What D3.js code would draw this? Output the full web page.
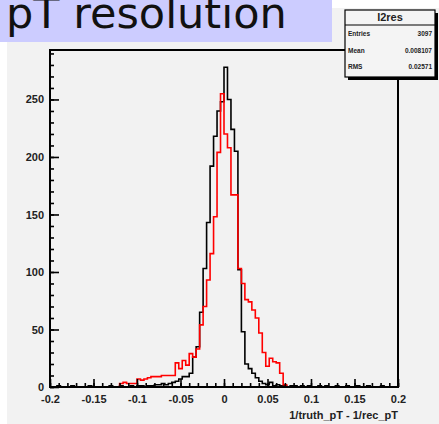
<!DOCTYPE html>
<html>
<head>
<meta charset="utf-8">
<title>pT resolution</title>
<script src="https://d3js.org/d3.v7.min.js"></script>
<style>
  body { margin: 0; background: #fff; }
  svg { display: block; }
  .ax text { font-family: "Liberation Sans", Arial, sans-serif; font-weight: bold; font-size: 11px; fill: #222; }
  .ax path { display: none; }
  .ax line { stroke: #000; stroke-width: 1.6; }
</style>
</head>
<body>
<svg width="439" height="424"></svg>
<script>
// 100 bins between -0.2 and 0.2
const xRange = [-0.2, 0.2];
const nBins = 100;

const blackCounts = [
  0,0,1,0,0,0,1,0,0,0, 0,1,0,0,0,0,0,1,0,0,
  1,0,0,1,0,1,1,0,1,1, 2,2,3,2,3,4,5,7,9,9,
  12,26,35,65,103,143,192,218,240,248, 278,250,224,205,102,48,20,16,12,8,
  5,3,2,4,1,2,1,1,0,1, 1,0,1,0,1,0,0,1,0,1, 
  0,0,1,0,0,1,0,0,1,0, 0,1,0,0,0,1,0,0,0,0
];
const redCounts = [
  0,0,0,0,0,0,0,0,0,0, 0,0,0,0,0,0,0,0,0,0,
  3,4,3,3,3,7,6,7,8,9, 9,9,10,10,10,10,21,16,23,19,
  29,26,33,54,70,93,116,148,204,255, 220,208,167,167,103,90,76,74,67,60,
  47,30,18,25,22,21,12,2,0,0, 0,0,0,0,0,0,0,0,0,0,
  0,0,0,0,0,0,0,0,0,0, 0,0,0,0,0,0,0,0,0,0
];

const yTicks = [0, 50, 100, 150, 200, 250];
const xTicks = [-0.2, -0.15, -0.1, -0.05, 0, 0.05, 0.1, 0.15, 0.2];
const xTickLabels = ["-0.2", "-0.15", "-0.1", "-0.05", "0", "0.05", "0.1", "0.15", "0.2"];
const statNames = ["Entries", "Mean", "RMS"];
const statValues = ["3097", "0.008107", "0.02571"];

const svg = d3.select("svg");

// canvas background + title pad
svg.append("rect").attr("x", 7).attr("y", 8).attr("width", 432).attr("height", 416).attr("fill", "#f2f2f2");
svg.append("rect").attr("x", 0).attr("y", 0).attr("width", 332).attr("height", 42).attr("fill", "#ccccff");
svg.append("text").attr("x", 6).attr("y", 28)
  .attr("font-family", "DejaVu Sans, sans-serif").attr("font-size", 43).attr("fill", "#111")
  .text("pT resolution");

const pLeft = 50, pRight = 398, pTop = 50, pBottom = 387;
const x = d3.scaleLinear().domain(xRange).range([pLeft, pRight]);
const y = d3.scaleLinear().domain([0, 293]).range([pBottom, pTop]);
const bw = (xRange[1] - xRange[0]) / nBins;

function histPoints(counts) {
  const pts = [[xRange[0], 0]];
  counts.forEach((c, i) => {
    pts.push([xRange[0] + i * bw, c]);
    pts.push([xRange[0] + (i + 1) * bw, c]);
  });
  pts.push([xRange[1], 0]);
  return pts;
}
const line = d3.line().x(d => x(d[0])).y(d => y(d[1]));

svg.append("path").attr("d", line(histPoints(blackCounts)))
  .attr("fill", "none").attr("stroke", "#000").attr("stroke-width", 1.6);
svg.append("path").attr("d", line(histPoints(redCounts)))
  .attr("fill", "none").attr("stroke", "#ff0000").attr("stroke-width", 1.6);

// axes: ticks point inward like ROOT
const yMinor = d3.range(0, 291, 10);
svg.append("g").attr("class", "ax").attr("transform", `translate(${pLeft},0)`)
  .call(d3.axisLeft(y).tickValues(yMinor).tickSize(-4).tickFormat(""));
svg.append("g").attr("class", "ax").attr("transform", `translate(${pLeft},0)`)
  .call(d3.axisLeft(y).tickValues(yTicks).tickSize(-9).tickPadding(6).tickFormat(d3.format("d")));

const xMinor = d3.range(0, 41).map(i => -0.2 + i * 0.01);
svg.append("g").attr("class", "ax").attr("transform", `translate(0,${pBottom})`)
  .call(d3.axisBottom(x).tickValues(xMinor).tickSize(-4).tickFormat(""));
svg.append("g").attr("class", "ax").attr("transform", `translate(0,${pBottom})`)
  .call(d3.axisBottom(x).tickValues(xTicks).tickSize(-8).tickPadding(8).tickFormat((d, i) => xTickLabels[i]));

svg.append("text").attr("x", pRight).attr("y", 419).attr("text-anchor", "end")
  .attr("font-family", "Liberation Sans, Arial, sans-serif").attr("font-weight", "bold")
  .attr("font-size", 11).attr("fill", "#222").text("1/truth_pT - 1/rec_pT");

// frame
svg.append("rect").attr("x", pLeft).attr("y", pTop).attr("width", pRight - pLeft).attr("height", pBottom - pTop)
  .attr("fill", "none").attr("stroke", "#000").attr("stroke-width", 2);

// stats box
const sb = {x: 345, y: 10, w: 90, h: 67};
svg.append("rect").attr("x", sb.x + 3).attr("y", sb.y + 3).attr("width", sb.w).attr("height", sb.h).attr("fill", "#000");
svg.append("rect").attr("x", sb.x).attr("y", sb.y).attr("width", sb.w).attr("height", sb.h)
  .attr("fill", "#f4f4f4").attr("stroke", "#000").attr("stroke-width", 1.2);
svg.append("line").attr("x1", sb.x).attr("x2", sb.x + sb.w).attr("y1", 25).attr("y2", 25)
  .attr("stroke", "#000").attr("stroke-width", 1.2);
svg.append("text").attr("x", sb.x + sb.w / 2).attr("y", 21).attr("text-anchor", "middle")
  .attr("font-family", "Liberation Sans, Arial, sans-serif").attr("font-weight", "bold")
  .attr("font-size", 11).attr("fill", "#222").text("l2res");
statNames.forEach((n, i) => {
  const yy = 36 + i * 16.5;
  svg.append("text").attr("x", sb.x + 3).attr("y", yy)
    .attr("font-family", "Liberation Sans, Arial, sans-serif").attr("font-weight", "bold")
    .attr("font-size", 6.5).attr("fill", "#222").text(n);
  svg.append("text").attr("x", sb.x + sb.w - 3).attr("y", yy).attr("text-anchor", "end")
    .attr("font-family", "Liberation Sans, Arial, sans-serif").attr("font-weight", "bold")
    .attr("font-size", 6.5).attr("fill", "#222").text(statValues[i]);
});
</script>
</body>
</html>
